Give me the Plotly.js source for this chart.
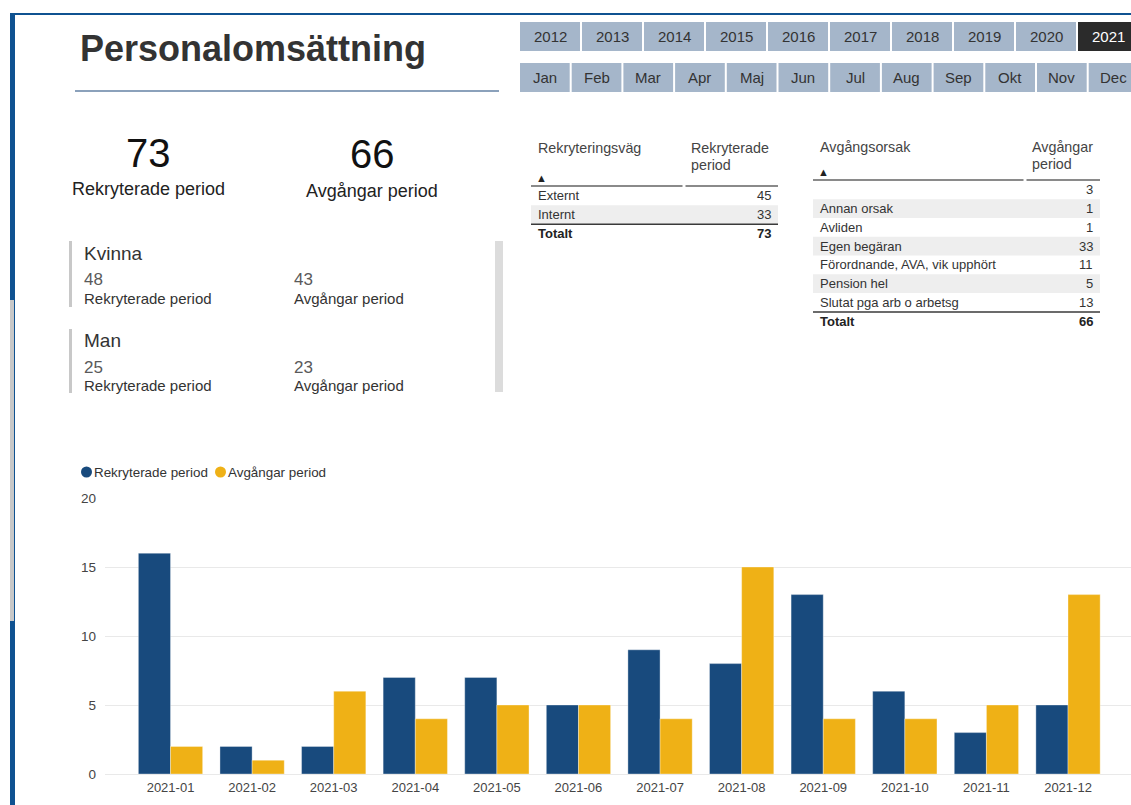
<!DOCTYPE html>
<html>
<head>
<meta charset="utf-8">
<script src="https://cdn.plot.ly/plotly-3.0.1.min.js"></script>
<style>
  html, body { margin: 0; padding: 0; background: #ffffff; }
  #chart { width: 1131px; height: 805px; }
</style>
</head>
<body>
<div id="chart"></div>
<script>
// ---------------- DATA ----------------
const months = ['2021-01','2021-02','2021-03','2021-04','2021-05','2021-06','2021-07','2021-08','2021-09','2021-10','2021-11','2021-12'];
const rekryterade = [16, 2, 2, 7, 7, 5, 9, 8, 13, 6, 3, 5];
const avgangar = [2, 1, 6, 4, 5, 5, 4, 15, 4, 4, 5, 13];
const seriesNames = ['Rekryterade period', 'Avgångar period'];

const pageTitle = 'Personalomsättning';
const years = ['2012','2013','2014','2015','2016','2017','2018','2019','2020','2021'];
const selectedYear = '2021';
const monthButtons = ['Jan','Feb','Mar','Apr','Maj','Jun','Jul','Aug','Sep','Okt','Nov','Dec'];

const kpiLabels = ['Rekryterade period', 'Avgångar period'];
const kpiTotals = [73, 66];

const genders = ['Kvinna', 'Man'];
const genderRekryterade = [48, 25];
const genderAvgangar = [43, 23];

const rekrytVagHeader = ['Rekryteringsväg', 'Rekryterade<br>period'];
const rekrytVag = ['Externt', 'Internt'];
const rekrytVagValues = [45, 33];
const rekrytTotal = 73;

const avgangHeader = ['Avgångsorsak', 'Avgångar<br>period'];
const avgangOrsak = ['', 'Annan orsak', 'Avliden', 'Egen begäran', 'Förordnande, AVA, vik upphört', 'Pension hel', 'Slutat pga arb o arbetsg'];
const avgangOrsakValues = [3, 1, 1, 33, 11, 5, 13];
const avgangTotal = 66;
const totalLabel = 'Totalt';

// ---------------- STYLE / LAYOUT HELPERS ----------------
const W = 1131, H = 805;
const fx = p => p / W;
const fy = p => 1 - p / H;
const FONT = 'Liberation Sans, Arial, sans-serif';
const BLUE = '#184a7d', YELLOW = '#efb116', TXT = '#333333';

const shapes = [];
const annotations = [];
function rect(x0, y0, x1, y1, color) {
  shapes.push({type: 'rect', xref: 'paper', yref: 'paper', x0: fx(x0), x1: fx(x1), y0: fy(y1), y1: fy(y0),
    fillcolor: color, line: {width: 0}, layer: 'below'});
}
function text(t, x, y, size, color, xanchor, bold) {
  annotations.push({text: bold ? '<b>' + t + '</b>' : t, xref: 'paper', yref: 'paper', x: fx(x), y: fy(y),
    xanchor: xanchor || 'left', yanchor: 'middle', showarrow: false, borderpad: 0,
    font: {family: FONT, size: size, color: color || TXT}});
}

// frame
rect(10, 13, W, 15, '#0f5291');
rect(10, 13, 15, H, '#0f5291');
rect(10, 300, 14, 621, '#c8c8c8');

// title
text(pageTitle, 79, 49, 36, TXT, 'left', true);
rect(75, 90, 499, 92, '#8ba1bb');

// year slicer
years.forEach((yv, i) => {
  const x0 = 520 + i * 62;
  const sel = yv === selectedYear;
  rect(x0, 22, x0 + 60, 51, sel ? '#2b2b2b' : '#a5b6ca');
  text(yv, x0 + 30, 36.5, 15, sel ? '#ffffff' : TXT, 'center');
});
// month slicer
monthButtons.forEach((m, i) => {
  const x0 = 520 + i * 51.7;
  rect(x0, 63, x0 + 49.7, 92, '#a5b6ca');
  text(m, x0 + 24.85, 77.5, 15, TXT, 'center');
});

// KPI cards
const kpiX = [148, 372];
kpiTotals.forEach((v, i) => {
  text(String(v), kpiX[i], 153 + i, 40, '#111111', 'center');
  text(kpiLabels[i], kpiX[i], 189 + 2 * i, 18, '#222222', 'center');
});

// gender cards
const cardTop = [241, 329];
genders.forEach((g, i) => {
  const t = cardTop[i];
  rect(69, t, 72, t + (i === 0 ? 66 : 64), '#c8c8c8');
  text(g, 83, t + 12, 19, TXT, 'left');
  text(String(genderRekryterade[i]), 83, t + 38, 17, '#5a5a5a', 'left');
  text(kpiLabels[0], 83, t + 57, 15, TXT, 'left');
  text(String(genderAvgangar[i]), 293, t + 38, 17, '#5a5a5a', 'left');
  text(kpiLabels[1], 293, t + 57, 15, TXT, 'left');
});
rect(495, 241, 503, 392, '#dcdcdc');

// ---------------- TABLES (drawn from the arrays) ----------------
function drawTable(cfg) {
  const {header, labels, values, total, x0, x1, colSplit, headerTop, headerLine, rowH, pad} = cfg;
  header.forEach((h, c) => {
    const lines = h.split('<br>');
    const hx = (c === 0 ? x0 : colSplit) + pad;
    lines.forEach((ln, k) => text(ln, hx, headerTop + k * 17, 14.3, '#444444', 'left'));
  });
  text('▲', x0 + pad + 4, headerLine - 8, 11, '#222222', 'center');
  rect(x0, headerLine - 1, colSplit - 1.5, headerLine + 1, '#8a8a8a');
  rect(colSplit + 1.5, headerLine - 1, x1, headerLine + 1, '#8a8a8a');
  const start = headerLine + 0.5;
  labels.forEach((lab, r) => {
    const top = start + r * rowH;
    if (r % 2 === 1) rect(x0, top, x1, top + rowH, '#eeeeee');
    const cy = top + rowH / 2;
    text(lab, x0 + pad, cy, 13, TXT, 'left');
    text(String(values[r]), x1 - pad, cy, 13, TXT, 'right');
  });
  const tTop = start + labels.length * rowH;
  rect(x0, tTop - 0.5, x1, tTop + 1, '#3a3a3a');
  const ty = tTop + rowH / 2 + 0.5;
  text(totalLabel, x0 + pad, ty, 13, '#222222', 'left', true);
  text(String(total), x1 - pad, ty, 13, '#222222', 'right', true);
}
drawTable({header: rekrytVagHeader, labels: rekrytVag, values: rekrytVagValues, total: rekrytTotal,
  x0: 531, x1: 778, colSplit: 684, headerTop: 148, headerLine: 186, rowH: 18.7, pad: 6});
drawTable({header: avgangHeader, labels: avgangOrsak, values: avgangOrsakValues, total: avgangTotal,
  x0: 813, x1: 1100, colSplit: 1025, headerTop: 147, headerLine: 180, rowH: 18.75, pad: 6});

// legend
const legendItems = [
  {name: seriesNames[0], color: BLUE, x: 81},
  {name: seriesNames[1], color: YELLOW, x: 215}
];
legendItems.forEach(it => {
  shapes.push({type: 'circle', xref: 'paper', yref: 'paper', x0: fx(it.x), x1: fx(it.x + 11), y0: fy(477.5), y1: fy(466.5),
    fillcolor: it.color, line: {width: 0}});
  text(it.name, it.x + 12, 472, 13.4, TXT, 'left');
});

// ---------------- TRACES ----------------
const barLine = {color: 'rgba(255,255,255,0.35)', width: 1};
const traces = [
  {type: 'bar', name: seriesNames[0], x: months, y: rekryterade, marker: {color: BLUE, line: barLine}},
  {type: 'bar', name: seriesNames[1], x: months, y: avgangar, marker: {color: YELLOW, line: barLine}}
];

const layout = {
  width: W, height: H,
  margin: {l: 0, r: 0, t: 0, b: 0},
  paper_bgcolor: '#ffffff', plot_bgcolor: 'rgba(0,0,0,0)',
  showlegend: false,
  barmode: 'group', bargap: 0.212, bargroupgap: 0,
  font: {family: FONT, color: TXT},
  xaxis: {domain: [fx(105), 1], type: 'category', range: [-0.803, 11.772], showgrid: false, showline: false,
    zeroline: false, ticks: '', tickfont: {family: FONT, size: 13, color: '#444444'}, ticklabelstandoff: 4, fixedrange: true},
  yaxis: {domain: [fy(774), fy(498)], range: [0, 20], dtick: 5, showgrid: true, gridcolor: '#e9e9e9', gridwidth: 1,
    zeroline: true, zerolinecolor: '#e9e9e9', zerolinewidth: 1, showline: false, ticks: '',
    tickfont: {family: FONT, size: 13.5, color: '#444444'}, ticklabelstandoff: 8, fixedrange: true},
  shapes: shapes,
  annotations: annotations
};

Plotly.newPlot('chart', traces, layout, {displayModeBar: false, staticPlot: true});
</script>
</body>
</html>
